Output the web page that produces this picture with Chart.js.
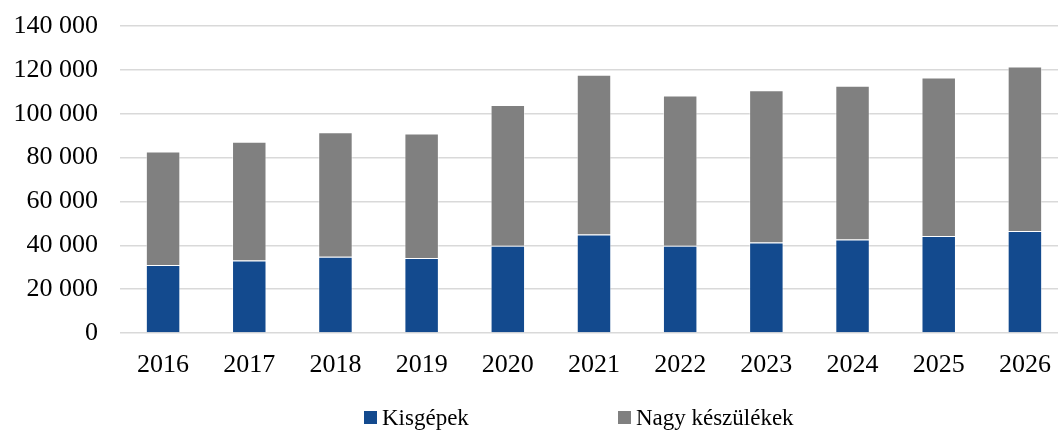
<!DOCTYPE html>
<html>
<head>
<meta charset="utf-8">
<script src="https://cdn.jsdelivr.net/npm/chart.js@4/dist/chart.umd.min.js"></script>
<style>
  html, body { margin: 0; padding: 0; background: #fff; overflow: hidden; }
  #wrap { position: relative; width: 1068px; height: 441px; }
  #legend { position: absolute; left: 364px; top: 406px; display: flex; gap: 149px;
            font-family: "Liberation Serif", "Times New Roman", serif; font-size: 23px; line-height: 23px; color: #000; }
  .item { display: flex; align-items: center; white-space: nowrap; }
  .box { width: 13px; height: 13px; margin-right: 5px; }
</style>
</head>
<body>
<div id="wrap">
  <canvas id="c" width="1068" height="441"></canvas>
  <div id="legend"></div>
</div>
<script>
const categories = ["2016","2017","2018","2019","2020","2021","2022","2023","2024","2025","2026"];
const kisgepek = [31000, 33100, 34800, 34200, 39800, 44900, 39800, 41300, 42600, 44200, 46500];
const nagyKeszulekek = [51800, 54100, 56800, 56800, 64200, 72900, 68500, 69400, 70200, 72300, 75000];
const seriesNames = ["Kisgépek", "Nagy készülékek"];
const seriesColors = ["#134A8E", "#808080"];
const yTicks = [0, 20000, 40000, 60000, 80000, 100000, 120000, 140000];

const fmt = v => String(v).replace(/\B(?=(\d{3})+(?!\d))/g, ' ');
const font = { family: "'Liberation Serif', 'Times New Roman', serif", size: 26 };

new Chart(document.getElementById('c'), {
  type: 'bar',
  data: {
    labels: categories,
    datasets: [
      { label: seriesNames[0], data: kisgepek, backgroundColor: seriesColors[0],
        borderColor: 'rgba(255,255,255,0.45)', borderWidth: 1 },
      { label: seriesNames[1], data: nagyKeszulekek, backgroundColor: seriesColors[1],
        borderColor: 'rgba(255,255,255,0.45)', borderWidth: 1 }
    ]
  },
  options: {
    responsive: false,
    animation: false,
    layout: { padding: { left: 13, right: 0, top: 26, bottom: 61 } },
    plugins: { legend: { display: false }, tooltip: { enabled: false } },
    datasets: { bar: { barPercentage: 0.4, categoryPercentage: 1 } },
    scales: {
      x: {
        stacked: true,
        afterFit: axis => { axis.height = 47; axis.paddingLeft = 0; axis.paddingRight = 0; },
        grid: { display: false, drawTicks: false },
        border: { display: false },
        ticks: { color: '#000', font: font, padding: 17, maxRotation: 0 }
      },
      y: {
        stacked: true,
        min: 0, max: 140000,
        afterFit: axis => { axis.width = 107; axis.paddingTop = 0; axis.paddingBottom = 0; },
        afterBuildTicks: axis => { axis.ticks = yTicks.map(v => ({ value: v })); },
        grid: { color: '#d9d9d9', lineWidth: 1.5, drawTicks: false },
        border: { display: false },
        ticks: { color: '#000', font: font, padding: 22, callback: v => fmt(v) }
      }
    }
  }
});

const legend = document.getElementById('legend');
seriesNames.forEach((name, i) => {
  const item = document.createElement('div');
  item.className = 'item';
  const box = document.createElement('span');
  box.className = 'box';
  box.style.background = seriesColors[i];
  const txt = document.createElement('span');
  txt.textContent = name;
  item.appendChild(box);
  item.appendChild(txt);
  legend.appendChild(item);
});
</script>
</body>
</html>
